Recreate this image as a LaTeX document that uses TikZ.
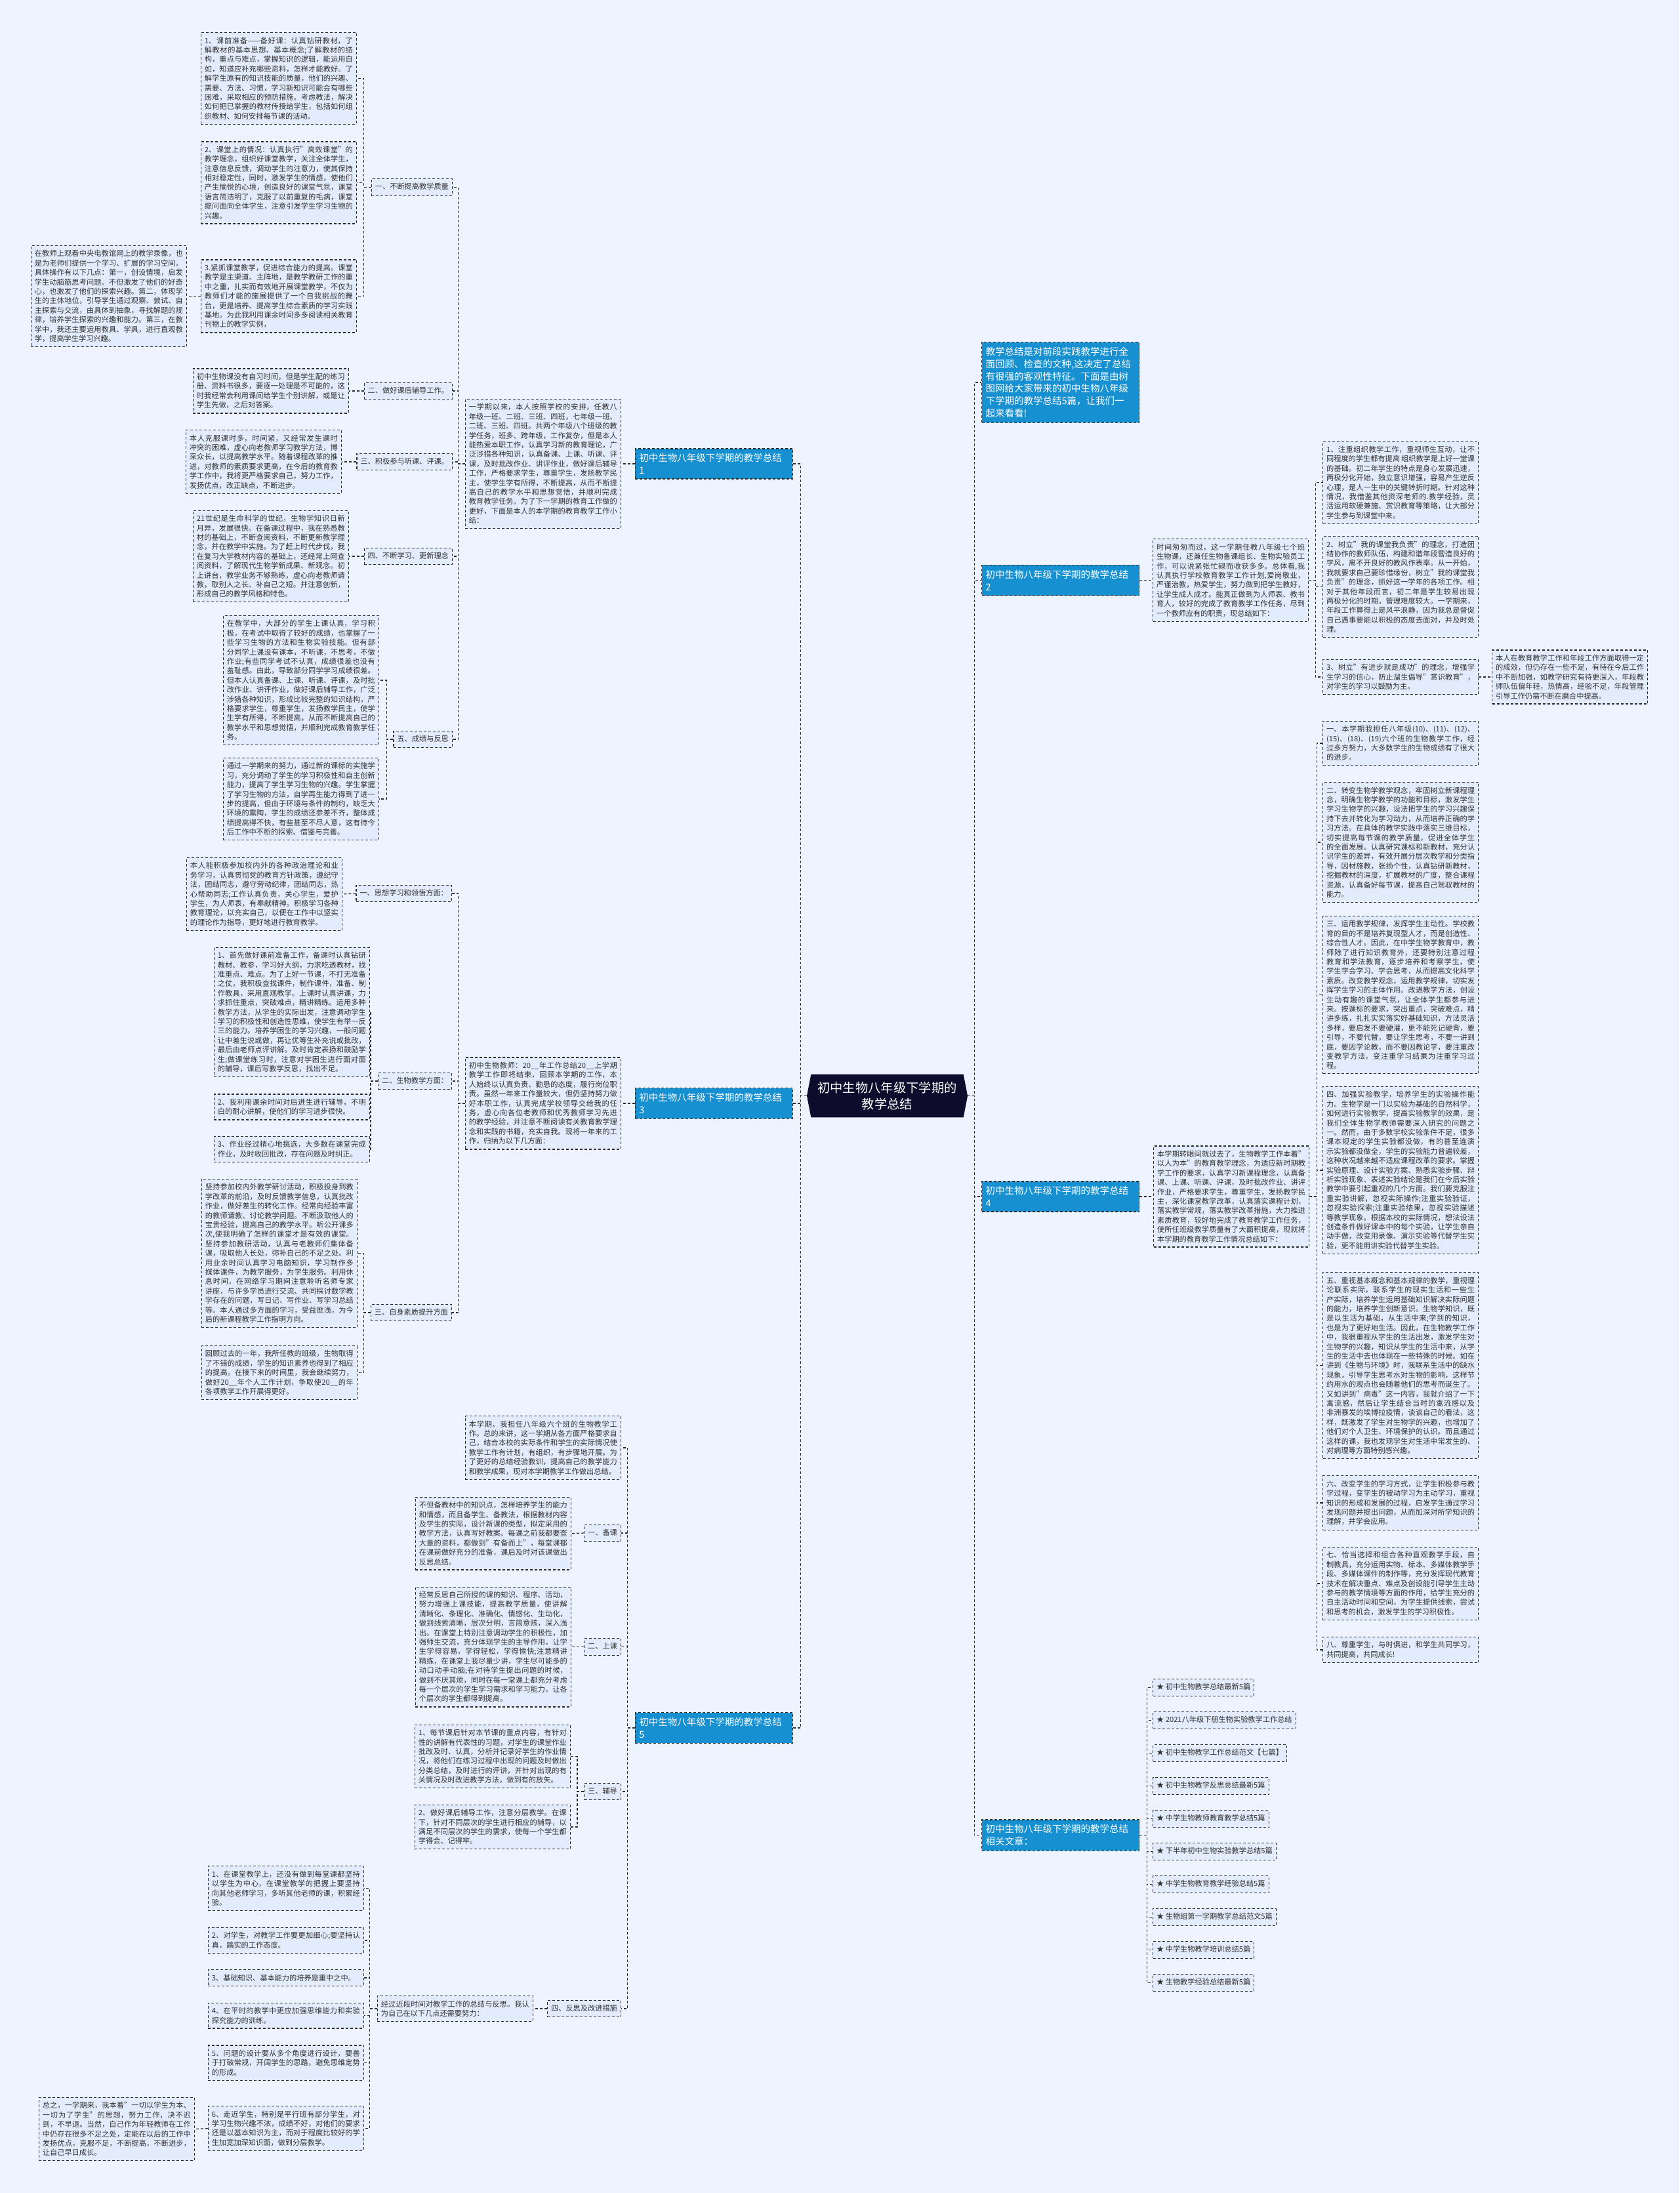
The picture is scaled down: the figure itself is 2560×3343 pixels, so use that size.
\documentclass[tikz,border=0pt]{standalone}
\usepackage{fontspec}
\setmainfont{Noto Sans CJK SC}
\usepackage{tikz}
\usetikzlibrary{shapes.symbols}
\XeTeXlinebreaklocale "zh"
\XeTeXlinebreakskip=0pt plus 1pt
\definecolor{bgc}{RGB}{238,244,255}
\definecolor{boxc}{RGB}{227,236,252}
\definecolor{linec}{RGB}{45,45,45}
\definecolor{textc}{RGB}{50,50,50}
\definecolor{headc}{RGB}{23,144,210}
\definecolor{rootc}{RGB}{13,12,44}

\begin{document}
\begin{tikzpicture}[x=1pt, y=-1pt,
    txt/.style={draw=linec, dash pattern=on 4pt off 3pt, line width=1.2pt, fill=boxc, text=textc,
        font=\fontsize{11.2}{14.4}\selectfont, text width=226pt, align=justify, inner xsep=5.5pt, inner ysep=7pt},
    lbl/.style={draw=linec, dash pattern=on 4pt off 3pt, line width=1.2pt, fill=boxc, text=textc,
        font=\fontsize{11.2}{14.4}\selectfont, inner xsep=5.5pt, inner ysep=5.5pt, text height=10.2pt, text depth=4.2pt},
    head/.style={draw=linec, dash pattern=on 4pt off 3pt, line width=1.2pt, fill=headc, text=white,
        font=\fontsize{14.5}{18.8}\selectfont, text width=228pt, align=left, inner xsep=6pt, inner ysep=7.5pt},
    rootbox/.style={signal, signal to=west and east, signal pointer angle=158, fill=rootc, text=white,
        font=\fontsize{19.3}{25.7}\selectfont, align=center, inner xsep=10pt, inner ysep=11pt},
    conn/.style={draw=linec, dash pattern=on 4pt off 3pt, line width=1.2pt}
]
    \fill[bgc] (0,0) rectangle (2560,3343);
    \useasboundingbox (0,0) rectangle (2560,3343);

    % Root
    \node[rootbox] (root) at (1352.5,1670.5) {初中生物八年级下学期的\\教学总结};

    % Headers
    \node[head, anchor=west] (intro) at (1496,583) {教学总结是对前段实践教学进行全\\面回顾、检查的文种,这决定了总结\\有很强的客观性特征。下面是由树\\图网给大家带来的初中生物八年级\\下学期的教学总结5篇，让我们一\\起来看看!};
    \node[head, anchor=east] (art1) at (1209,707) {初中生物八年级下学期的教学总结\\1};
    \node[head, anchor=west] (art2) at (1496,884.5) {初中生物八年级下学期的教学总结\\2};
    \node[head, anchor=east] (art3) at (1209,1682) {初中生物八年级下学期的教学总结\\3};
    \node[head, anchor=west] (art4) at (1496,1824) {初中生物八年级下学期的教学总结\\4};
    \node[head, anchor=east] (art5) at (1209,2634) {初中生物八年级下学期的教学总结\\5};
    \node[head, anchor=west] (artrel) at (1496,2797.5) {初中生物八年级下学期的教学总结\\相关文章：};

    % Summary 1
    \node[txt, anchor=east] (lead1) at (947,707) {一学期以来，本人按照学校的安排，任教八年级一班、二班、三班、四班，七年级一班、二班、三班、四班。共两个年级八个班级的教学任务，班多、跨年级，工作复杂，但是本人能热爱本职工作，认真学习新的教育理论，广泛涉猎各种知识，认真备课、上课、听课、评课，及时批改作业、讲评作业，做好课后辅导工作，严格要求学生，尊重学生，发扬教学民主，使学生学有所得，不断提高，从而不断提高自己的教学水平和思想觉悟，并顺利完成教育教学任务。为了下一学期的教育工作做的更好，下面是本人的本学期的教育教学工作小结：};
    \node[lbl, anchor=east] (b1k1) at (690,285.5) {一、不断提高教学质量};
    \node[lbl, anchor=east] (b1k2) at (690,596) {二、做好课后辅导工作。};
    \node[lbl, anchor=east] (b1k3) at (690,704) {三、积极参与听课、评课。};
    \node[lbl, anchor=east] (b1k4) at (690,848) {四、不断学习、更新理念};
    \node[lbl, anchor=east] (b1k5) at (690,1127) {五、成绩与反思};

    \node[txt, anchor=east] (b1k1a) at (544,119.5) {1、课前准备——备好课：认真钻研教材，了解教材的基本思想、基本概念;了解教材的结构，重点与难点，掌握知识的逻辑，能运用自如，知道应补充哪些资料，怎样才能教好。了解学生原有的知识技能的质量，他们的兴趣、需要、方法、习惯，学习新知识可能会有哪些困难，采取相应的预防措施。考虑教法，解决如何把已掌握的教材传授给学生，包括如何组织教材、如何安排每节课的活动。};
    \node[txt, anchor=east] (b1k1b) at (544,278.5) {2、课堂上的情况：认真执行"高效课堂"的教学理念，组织好课堂教学，关注全体学生，注意信息反馈，调动学生的注意力，使其保持相对稳定性，同时，激发学生的情感，使他们产生愉悦的心境，创造良好的课堂气氛，课堂语言简洁明了，克服了以前重复的毛病，课堂提问面向全体学生，注意引发学生学习生物的兴趣。};
    \node[txt, anchor=east] (b1k1c) at (544,451.5) {3.紧抓课堂教学，促进综合能力的提高。课堂教学是主渠道、主阵地，是教学教研工作的重中之重，扎实而有效地开展课堂教学，不仅为教师们才能的施展提供了一个自我挑战的舞台，更是培养、提高学生综合素质的学习实践基地。为此我利用课余时间多多阅读相关教育刊物上的教学实例，};
    \node[txt, anchor=east] (b1k1x) at (285,451.5) {在教师上观看中央电教馆网上的教学录像，也是为老师们提供一个学习、扩展的学习空间。具体操作有以下几点：第一，创设情境，启发学生动脑筋思考问题。不但激发了他们的好奇心，也激发了他们的探索兴趣。第二，体现学生的主体地位，引导学生通过观察、尝试、自主探索与交流，由具体到抽象，寻找解题的规律，培养学生探索的兴趣和能力。第三，在教学中，我还主要运用教具、学具，进行直观教学，提高学生学习兴趣。};
    \node[txt, anchor=east] (b1k2a) at (532,596) {初中生物课没有自习时间，但是学生配的练习册、资料书很多，要逐一处理是不可能的，这时我经常会利用课间给学生个别讲解，或是让学生先做，之后对答案。};
    \node[txt, anchor=east] (b1k3a) at (521,704) {本人克服课时多，时间紧，又经常发生课时冲突的困难，虚心向老教师学习教学方法，博采众长，以提高教学水平。随着课程改革的推进，对教师的素质要求更高，在今后的教育教学工作中，我将更严格要求自己，努力工作，发扬优点，改正缺点，不断进步。};
    \node[txt, anchor=east] (b1k4a) at (532,848) {21世纪是生命科学的世纪，生物学知识日新月异，发展很快。在备课过程中，我在熟悉教材的基础上，不断查阅资料，不断更新教学理念，并在教学中实施。为了赶上时代步伐，我在复习大学教材内容的基础上，还经常上网查阅资料，了解现代生物学新成果、新观念。初上讲台，教学业务不够熟练，虚心向老教师请教，取别人之长、补自己之短。并注意创新，形成自己的教学风格和特色。};
    \node[txt, anchor=east] (b1k5a) at (578,1037) {在教学中，大部分的学生上课认真，学习积极，在考试中取得了较好的成绩，也掌握了一些学习生物的方法和生物实验技能。但有部分同学上课没有课本，不听课，不思考，不做作业;有些同学考试不认真，成绩很差也没有羞耻感。由此，导致部分同学学习成绩很差。但本人认真备课、上课、听课、评课，及时批改作业、讲评作业，做好课后辅导工作，广泛涉猎各种知识，形成比较完整的知识结构，严格要求学生，尊重学生，发扬教学民主，使学生学有所得，不断提高，从而不断提高自己的教学水平和思想觉悟，并顺利完成教育教学任务。};
    \node[txt, anchor=east] (b1k5b) at (578,1218) {通过一学期来的努力，通过新的课标的实施学习，充分调动了学生的学习积极性和自主创新能力，提高了学生学习生物的兴趣。学生掌握了学习生物的方法，自学再生能力得到了进一步的提高，但由于环境与条件的制约，缺乏大环境的熏陶，学生的成绩还参差不齐，整体成绩提高得不快，有些甚至不尽人意，这有待今后工作中不断的探索、借鉴与完善。};

    % Summary 3
    \node[txt, anchor=east] (lead3) at (947,1682) {初中生物教师：20\_\_年工作总结20\_\_上学期教学工作即将结束，回顾本学期的工作，本人始终以认真负责、勤恳的态度，履行岗位职责。虽然一年来工作量较大，但仍坚持努力做好本职工作，认真完成学校领导交给我的任务，虚心向各位老教师和优秀教师学习先进的教学经验，并注意不断阅读有关教育教学理念和实践的书籍，充实自我。现将一年来的工作，归纳为以下几方面：};
    \node[lbl, anchor=east] (b3k1) at (689,1362) {一、思想学习和领悟方面：};
    \node[lbl, anchor=east] (b3k2) at (689,1648) {二、生物教学方面：};
    \node[lbl, anchor=east] (b3k3) at (689,2001) {三、自身素质提升方面};

    \node[txt, anchor=east] (b3k1a) at (522,1363) {本人能积极参加校内外的各种政治理论和业务学习，认真贯彻党的教育方针政策，遵纪守法，团结同志，遵守劳动纪律，团结同志，热心帮助同志;工作认真负责，关心学生，爱护学生，为人师表，有奉献精神。积极学习各种教育理论，以充实自己，以便在工作中以坚实的理论作为指导，更好地进行教育教学。};
    \node[txt, anchor=east] (b3k2a) at (564,1543) {1、首先做好课前准备工作，备课时认真钻研教材、教参，学习好大纲，力求吃透教材，找准重点、难点。为了上好一节课，不打无准备之仗，我积极查找课件，制作课件，准备、制作教具，采用直观教学。上课时认真讲课，力求抓住重点，突破难点，精讲精练。运用多种教学方法，从学生的实际出发，注意调动学生学习的积极性和创造性思维，使学生有举一反三的能力。培养学困生的学习兴趣，一般问题让中差生说或做，再让优等生补充说或批改，最后由老师点评讲解。及时肯定表扬和鼓励学生;做课堂练习时，注意对学困生进行面对面的辅导，课后写教学反思，找出不足。};
    \node[txt, anchor=east] (b3k2b) at (564,1687.5) {2、我利用课余时间对后进生进行辅导，不明白的耐心讲解，使他们的学习进步很快。};
    \node[txt, anchor=east] (b3k2c) at (564,1752) {3、作业经过精心地挑选，大多数在课堂完成作业，及时收回批改，存在问题及时纠正。};
    \node[txt, anchor=east] (b3k3a) at (545,1910.5) {坚持参加校内外教学研讨活动，积极投身到教学改革的前沿，及时反馈教学信息，认真批改作业，做好差生的转化工作。经常向经验丰富的教师请教、讨论教学问题。不断汲取他人的宝贵经验，提高自己的教学水平。听公开课多次,使我明确了怎样的课堂才是有效的课堂。坚持参加教研活动，认真与老教师们集体备课，吸取他人长处，弥补自己的不足之处。利用业余时间认真学习电脑知识，学习制作多媒体课件，为教学服务，为学生服务。利用休息时间，在网络学习期间注意聆听名师专家讲座，与许多学员进行交流、共同探讨数学教学存在的问题，写日记、写作业、写学习总结等。本人通过多方面的学习，受益匪浅，为今后的新课程教学工作指明方向。};
    \node[txt, anchor=east] (b3k3b) at (545,2092.5) {回顾过去的一年，我所任教的班级，生物取得了不错的成绩，学生的知识素养也得到了相应的提高。在接下来的时间里，我会继续努力，做好20\_\_年个人工作计划，争取使20\_\_的年各项教学工作开展得更好。};

    % Summary 5
    \node[txt, anchor=east] (lead5) at (947,2207) {本学期，我担任八年级六个班的生物教学工作。总的来讲，这一学期从各方面严格要求自己，结合本校的实际条件和学生的实际情况使教学工作有计划，有组织，有步骤地开展。为了更好的总结经验教训，提高自己的教学能力和教学成果，现对本学期教学工作做出总结。};
    \node[lbl, anchor=east] (b5k1) at (947,2337) {一、备课};
    \node[lbl, anchor=east] (b5k2) at (947,2510.5) {二、上课};
    \node[lbl, anchor=east] (b5k3) at (947,2731) {三、辅导};
    \node[lbl, anchor=east] (b5k4) at (947,3062) {四、反思及改进措施};

    \node[txt, anchor=east] (b5k1a) at (871,2337.5) {不但备教材中的知识点，怎样培养学生的能力和情感，而且备学生、备教法，根据教材内容及学生的实际，设计新课的类型，拟定采用的教学方法，认真写好教案。每课之前我都要查大量的资料，都做到"有备而上"，每堂课都在课前做好充分的准备，课后及时对该课做出反思总结。};
    \node[txt, anchor=east] (b5k2a) at (871,2510.5) {经常反思自己所授的课的知识、程序、活动，努力增强上课技能，提高教学质量，使讲解清晰化、条理化、准确化、情感化、生动化，做到线索清晰，层次分明，言简意赅，深入浅出。在课堂上特别注意调动学生的积极性，加强师生交流，充分体现学生的主导作用，让学生学得容易，学得轻松，学得愉快;注意精讲精练，在课堂上我尽量少讲，学生尽可能多的动口动手动脑;在对待学生提出问题的时候，做到不厌其烦，同时在每一堂课上都充分考虑每一个层次的学生学习需求和学习能力，让各个层次的学生都得到提高。};
    \node[txt, anchor=east] (b5k3a) at (870,2677.5) {1、每节课后针对本节课的重点内容，有针对性的讲解有代表性的习题，对学生的课堂作业批改及时、认真，分析并记录好学生的作业情况，将他们在练习过程中出现的问题及时做出分类总结，及时进行的评讲，并针对出现的有关情况及时改进教学方法，做到有的放矢。};
    \node[txt, anchor=east] (b5k3b) at (870,2785) {2、做好课后辅导工作，注意分层教学。在课下，针对不同层次的学生进行相应的辅导，以满足不同层次的学生的需求，使每一个学生都学得会、记得牢。};
    \node[txt, anchor=east] (b5k4a) at (813,3062) {经过近段时间对教学工作的总结与反思。我认为自己在以下几点还需要努力：};
    \node[txt, anchor=east] (b5p1) at (555,2878.5) {1、在课堂教学上，还没有做到每堂课都坚持以学生为中心，在课堂教学的把握上要坚持向其他老师学习，多听其他老师的课，积累经验。};
    \node[txt, anchor=east] (b5p2) at (555,2958) {2、对学生，对教学工作要更加细心;要坚持认真，踏实的工作态度。};
    \node[txt, anchor=east] (b5p3) at (555,3015) {3、基础知识、基本能力的培养是重中之中。};
    \node[txt, anchor=east] (b5p4) at (555,3072.5) {4、在平时的教学中更应加强思维能力和实验探究能力的训练。};
    \node[txt, anchor=east] (b5p5) at (555,3144.5) {5、问题的设计要从多个角度进行设计，要善于打破常规，开阔学生的思路，避免思维定势的形成。};
    \node[txt, anchor=east] (b5p6) at (555,3244.5) {6、走近学生，特别是平行班有部分学生，对学习生物兴趣不浓，成绩不好，对他们的要求还是以基本知识为主，而对于程度比较好的学生加宽加深知识面，做到分层教学。};
    \node[txt, anchor=east] (b5p6x) at (297,3245.5) {总之，一学期来，我本着"一切以学生为本、一切为了学生"的思想，努力工作，决不迟到，不早退。当然，自己作为年轻教师在工作中仍存在很多不足之处，定能在以后的工作中发扬优点，克服不足，不断提高，不断进步，让自己早日成长。};

    % Summary 2
    \node[txt, anchor=west] (lead2) at (1757,884.5) {时间匆匆而过，这一学期任教八年级七个班生物课，还兼任生物备课组长、生物实验员工作，可以说紧张忙碌而收获多多。总体看,我认真执行学校教育教学工作计划,爱岗敬业，严谨治教，热爱学生，努力做到把学生教好，让学生成人成才。能真正做到为人师表、教书育人，较好的完成了教育教学工作任务，尽到一个教师应有的职责，现总结如下：};
    \node[txt, anchor=west] (b2p1) at (2016,735.5) {1、注重组织教学工作，重视师生互动，让不同程度的学生都有提高 组织教学是上好一堂课的基础。初二年学生的特点是身心发展迅速，两极分化开始，独立意识增强，容易产生逆反心理，是人一生中的关键转折时期。针对这种情况，我借鉴其他资深老师的.教学经验，灵活运用软硬兼施、赏识教育等策略，让大部分学生参与到课堂中来。};
    \node[txt, anchor=west] (b2p2) at (2016,894.5) {2、树立"我的课堂我负责"的理念，打造团结协作的教师队伍，构建和谐年段营造良好的学风，离不开良好的教风作表率。从一开始，我就要求自己要珍惜缘份，树立"我的课堂我负责"的理念，抓好这一学年的各项工作。相对于其他年段而言，初二年是学生较易出现两极分化的时期，管理难度较大。一学期来，年段工作算得上是风平浪静，因为我总是督促自己遇事要能以积极的态度去面对，并及时处理。};
    \node[txt, anchor=west] (b2p3) at (2016,1032) {3、树立"有进步就是成功"的理念，增强学生学习的信心，防止溜生倡导"赏识教育"，对学生的学习以鼓励为主。};
    \node[txt, anchor=west] (b2p3x) at (2274,1032) {本人在教育教学工作和年段工作方面取得一定的成效，但仍存在一些不足，有待在今后工作中不断加强，如教学研究有待更深入，年段教师队伍偏年轻，热情高，经验不足，年段管理引导工作仍需不断在磨合中提高。};

    % Summary 4
    \node[txt, anchor=west] (lead4) at (1758,1824) {本学期转眼间就过去了，生物教学工作本着"以人为本"的教育教学理念，为适应新时期教学工作的要求，认真学习新课程理念，认真备课、上课、听课、评课，及时批改作业、讲评作业，严格要求学生，尊重学生，发扬教学民主，深化课堂教学改革，认真落实课程计划，落实教学常规，落实教学改革措施，大力推进素质教育，较好地完成了教育教学工作任务，使所任班级教学质量有了大面积提高，现就将本学期的教育教学工作情况总结如下：};
    \node[txt, anchor=west] (b4p1) at (2016,1133) {一、本学期我担任八年级(10)、(11)、(12)、(15)、(18)、(19)六个班的生物教学工作，经过多方努力，大多数学生的生物成绩有了很大的进步。};
    \node[txt, anchor=west] (b4p2) at (2016,1284) {二、转变生物学教学观念，牢固树立新课程理念，明确生物学教学的功能和目标，激发学生学习生物学的兴趣，设法把学生的学习兴趣保持下去并转化为学习动力，从而培养正确的学习方法。在具体的教学实践中落实三维目标，切实提高每节课的教学质量，促进全体学生的全面发展。认真研究课标和新教材，充分认识学生的差异，有效开展分层次教学和分类指导，因材施教，张扬个性，认真钻研新教材，挖掘教材的深度，扩展教材的广度，整合课程资源，认真备好每节课，提高自己驾驭教材的能力。};
    \node[txt, anchor=west] (b4p3) at (2016,1516.5) {三、运用教学规律，发挥学生主动性。学校教育的目的不是培养复现型人才，而是创造性、综合性人才。因此，在中学生物学教育中，教师除了进行知识教育外，还要特别注意过程教育和学法教育，逐步培养和考察学生，使学生学会学习、学会思考，从而提高文化科学素质。改变教学观念，运用教学规律，切实发挥学生学习的主体作用。改进教学方法，创设生动有趣的课堂气氛，让全体学生都参与进来。按课标的要求，突出重点，突破难点，精讲多练，扎扎实实落实好基础知识，方法灵活多样，要启发不要硬灌，更不能死记硬背，要引导，不要代替，要让学生思考，不要一讲到底，要因学论教，而不要因教论学，要注重改变教学方法，变注重学习结果为注重学习过程。};
    \node[txt, anchor=west] (b4p4) at (2016,1784) {四、加强实验教学，培养学生的实验操作能力。生物学是一门以实验为基础的自然科学，如何进行实验教学，提高实验教学的效果，是我们全体生物学教师需要深入研究的问题之一。然而，由于多数学校实验条件不足，很多课本规定的学生实验都没做，有的甚至连演示实验都没做全，学生的实验能力普遍较差，这种状况越来越不适应课程改革的要求。掌握实验原理、设计实验方案、熟悉实验步骤、辩析实验现象、表述实验结论是我们在今后实验教学中要引起重视的几个方面。我们要克服注重实验讲解，忽视实际操作;注重实验验证，忽视实验探索;注重实验结果，忽视实验描述等教学现象。根据本校的实际情况，想法设法创造条件做好课本中的每个实验，让学生亲自动手做，改变用录像、演示实验等代替学生实验，更不能用讲实验代替学生实验。};
    \node[txt, anchor=west] (b4p5) at (2016,2081.5) {五、重视基本概念和基本规律的教学，重视理论联系实际，联系学生的现实生活和一些生产实际，培养学生运用基础知识解决实际问题的能力，培养学生创新意识。生物学知识，既是以生活为基础，从生活中来;学到的知识，也是为了更好地生活。因此，在生物教学工作中，我很重视从学生的生活出发，激发学生对生物学的兴趣，知识从学生的生活中来，从学生的生活中去也体现在一些特殊的时候。如在讲到《生物与环境》时，我联系生活中的缺水现象，引导学生思考水对生物的影响，这样节约用水的观点也会随着他们的思考而诞生了。又如讲到"病毒"这一内容，我就介绍了一下禽流感，然后让学生结合当时的禽流感以及非洲暴发的埃博拉疫情，谈谈自己的看法，这样，既激发了学生对生物学的兴趣，也增加了他们对个人卫生、环境保护的认识。而且通过这样的课，我也发现学生对生活中常发生的、对病理等方面特别感兴趣。};
    \node[txt, anchor=west] (b4p6) at (2016,2291) {六、改变学生的学习方式，让学生积极参与教学过程，变学生的被动学习为主动学习，重视知识的形成和发展的过程，启发学生通过学习发现问题并提出问题，从而加深对所学知识的理解，并学会应用。};
    \node[txt, anchor=west] (b4p7) at (2016,2414) {七、恰当选择和组合各种直观教学手段，自制教具，充分运用实物、标本、多媒体教学手段、多媒体课件的制作等，充分发挥现代教育技术在解决重点、难点及创设能引导学生主动参与的教学情境等方面的作用，给学生充分的自主活动时间和空间，为学生提供线索，尝试和思考的机会，激发学生的学习积极性。};
    \node[txt, anchor=west] (b4p8) at (2016,2515) {八、尊重学生，与时俱进，和学生共同学习，共同提高，共同成长!};

    % Related articles
    \node[lbl, anchor=west] (rel1) at (1757,2572.5) {★ 初中生物教学总结最新5篇};
    \node[lbl, anchor=west] (rel2) at (1757,2622.5) {★ 2021八年级下册生物实验教学工作总结};
    \node[lbl, anchor=west] (rel3) at (1757,2672.5) {★ 初中生物教学工作总结范文【七篇】};
    \node[lbl, anchor=west] (rel4) at (1757,2722.5) {★ 初中生物教学反思总结最新5篇};
    \node[lbl, anchor=west] (rel5) at (1757,2772.5) {★ 中学生物教师教育教学总结5篇};
    \node[lbl, anchor=west] (rel6) at (1757,2822.5) {★ 下半年初中生物实验教学总结5篇};
    \node[lbl, anchor=west] (rel7) at (1757,2872.5) {★ 中学生物教育教学经验总结5篇};
    \node[lbl, anchor=west] (rel8) at (1757,2922.5) {★ 生物组第一学期教学总结范文5篇};
    \node[lbl, anchor=west] (rel9) at (1757,2972.5) {★ 中学生物教学培训总结5篇};
    \node[lbl, anchor=west] (rel10) at (1757,3022.5) {★ 生物教学经验总结最新5篇};

    % Connections
    \draw[conn] (root.west) -- ++(-9,0) |- (art1.east);
    \draw[conn] (root.west) -- ++(-9,0) |- (art3.east);
    \draw[conn] (root.west) -- ++(-9,0) |- (art5.east);
    \draw[conn] (root.east) -- ++(10,0) |- (intro.west);
    \draw[conn] (root.east) -- ++(10,0) |- (art2.west);
    \draw[conn] (root.east) -- ++(10,0) |- (art4.west);
    \draw[conn] (root.east) -- ++(10,0) |- (artrel.west);

    \draw[conn] (art1.west) -- (lead1.east);
    \draw[conn] (lead1.west) -- ++(-10,0) |- (b1k1.east);
    \draw[conn] (lead1.west) -- ++(-10,0) |- (b1k2.east);
    \draw[conn] (lead1.west) -- ++(-10,0) |- (b1k3.east);
    \draw[conn] (lead1.west) -- ++(-10,0) |- (b1k4.east);
    \draw[conn] (lead1.west) -- ++(-10,0) |- (b1k5.east);
    \draw[conn] (b1k1.west) -- ++(-11,0) |- (b1k1a.east);
    \draw[conn] (b1k1.west) -- ++(-11,0) |- (b1k1b.east);
    \draw[conn] (b1k1.west) -- ++(-11,0) |- (b1k1c.east);
    \draw[conn] (b1k1c.west) -- (b1k1x.east);
    \draw[conn] (b1k2.west) -- (b1k2a.east);
    \draw[conn] (b1k3.west) -- (b1k3a.east);
    \draw[conn] (b1k4.west) -- (b1k4a.east);
    \draw[conn] (b1k5.west) -- ++(-10,0) |- (b1k5a.east);
    \draw[conn] (b1k5.west) -- ++(-10,0) |- (b1k5b.east);

    \draw[conn] (art3.west) -- (lead3.east);
    \draw[conn] (lead3.west) -- ++(-10,0) |- (b3k1.east);
    \draw[conn] (lead3.west) -- ++(-10,0) |- (b3k2.east);
    \draw[conn] (lead3.west) -- ++(-10,0) |- (b3k3.east);
    \draw[conn] (b3k1.west) -- (b3k1a.east);
    \draw[conn] (b3k2.west) -- ++(-11,0) |- (b3k2a.east);
    \draw[conn] (b3k2.west) -- ++(-11,0) |- (b3k2b.east);
    \draw[conn] (b3k2.west) -- ++(-11,0) |- (b3k2c.east);
    \draw[conn] (b3k3.west) -- ++(-10,0) |- (b3k3a.east);
    \draw[conn] (b3k3.west) -- ++(-10,0) |- (b3k3b.east);

    \draw[conn] (art5.west) -- ++(-11,0) |- (lead5.east);
    \draw[conn] (art5.west) -- ++(-11,0) |- (b5k1.east);
    \draw[conn] (art5.west) -- ++(-11,0) |- (b5k2.east);
    \draw[conn] (art5.west) -- ++(-11,0) |- (b5k3.east);
    \draw[conn] (art5.west) -- ++(-11,0) |- (b5k4.east);
    \draw[conn] (b5k1.west) -- (b5k1a.east);
    \draw[conn] (b5k2.west) -- (b5k2a.east);
    \draw[conn] (b5k3.west) -- ++(-10,0) |- (b5k3a.east);
    \draw[conn] (b5k3.west) -- ++(-10,0) |- (b5k3b.east);
    \draw[conn] (b5k4.west) -- (b5k4a.east);
    \draw[conn] (b5k4a.west) -- ++(-11,0) |- (b5p1.east);
    \draw[conn] (b5k4a.west) -- ++(-11,0) |- (b5p2.east);
    \draw[conn] (b5k4a.west) -- ++(-11,0) |- (b5p3.east);
    \draw[conn] (b5k4a.west) -- ++(-11,0) |- (b5p4.east);
    \draw[conn] (b5k4a.west) -- ++(-11,0) |- (b5p5.east);
    \draw[conn] (b5k4a.west) -- ++(-11,0) |- (b5p6.east);
    \draw[conn] (b5p6.west) -- (b5p6x.east);

    \draw[conn] (art2.east) -- (lead2.west);
    \draw[conn] (lead2.east) -- ++(10,0) |- (b2p1.west);
    \draw[conn] (lead2.east) -- ++(10,0) |- (b2p2.west);
    \draw[conn] (lead2.east) -- ++(10,0) |- (b2p3.west);
    \draw[conn] (b2p3.east) -- (b2p3x.west);

    \draw[conn] (art4.east) -- (lead4.west);
    \draw[conn] (lead4.east) -- ++(11,0) |- (b4p1.west);
    \draw[conn] (lead4.east) -- ++(11,0) |- (b4p2.west);
    \draw[conn] (lead4.east) -- ++(11,0) |- (b4p3.west);
    \draw[conn] (lead4.east) -- ++(11,0) |- (b4p4.west);
    \draw[conn] (lead4.east) -- ++(11,0) |- (b4p5.west);
    \draw[conn] (lead4.east) -- ++(11,0) |- (b4p6.west);
    \draw[conn] (lead4.east) -- ++(11,0) |- (b4p7.west);
    \draw[conn] (lead4.east) -- ++(11,0) |- (b4p8.west);

    \draw[conn] (artrel.east) -- ++(11,0) |- (rel1.west);
    \draw[conn] (artrel.east) -- ++(11,0) |- (rel2.west);
    \draw[conn] (artrel.east) -- ++(11,0) |- (rel3.west);
    \draw[conn] (artrel.east) -- ++(11,0) |- (rel4.west);
    \draw[conn] (artrel.east) -- ++(11,0) |- (rel5.west);
    \draw[conn] (artrel.east) -- ++(11,0) |- (rel6.west);
    \draw[conn] (artrel.east) -- ++(11,0) |- (rel7.west);
    \draw[conn] (artrel.east) -- ++(11,0) |- (rel8.west);
    \draw[conn] (artrel.east) -- ++(11,0) |- (rel9.west);
    \draw[conn] (artrel.east) -- ++(11,0) |- (rel10.west);
\end{tikzpicture}
\end{document}
